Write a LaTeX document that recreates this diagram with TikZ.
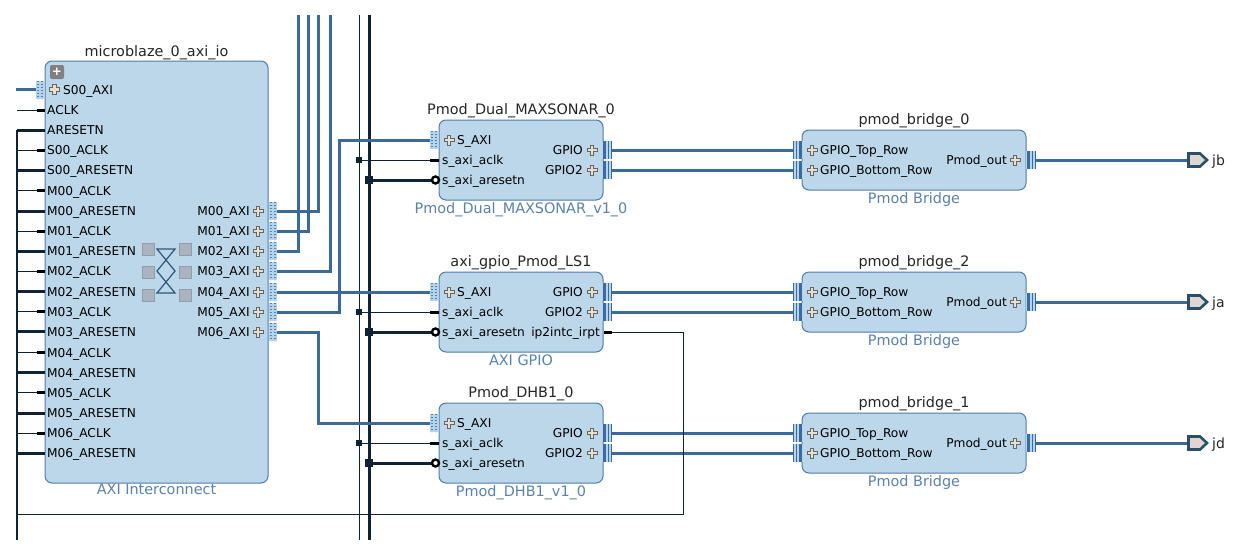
\documentclass[tikz,border=0pt]{standalone}
\usepackage{fontspec}
\setmainfont{DejaVu Sans}
\definecolor{blockfill}{HTML}{BCD6EA}
\definecolor{blockline}{HTML}{4F7CA8}
\definecolor{subtext}{HTML}{5A82AB}
\definecolor{buscol}{HTML}{3C6A9A}
\definecolor{rstcol}{HTML}{0F2236}
\definecolor{pincol}{HTML}{B4D3EC}
\definecolor{plusfill}{HTML}{E6E0D0}
\definecolor{xbarfill}{HTML}{AAB3C0}
\definecolor{xbarline}{HTML}{929CAB}
\definecolor{extfill}{HTML}{DDD6D2}
\definecolor{extline}{HTML}{2A5068}
\tikzset{
  block/.style={draw=blockline, line width=1pt, fill=blockfill, rounded corners=7pt, inner sep=0pt},
  title/.style={font=\fontsize{14.4}{15}\selectfont, text=black!85, inner sep=0pt, text height=10pt, text depth=0pt},
  subtitle/.style={font=\fontsize{14.4}{15}\selectfont, text=subtext, inner sep=0pt, text height=10pt, text depth=0pt},
  portl/.style={font=\fontsize{12.2}{13}\selectfont, anchor=west, inner sep=0pt, text height=9pt, text depth=0pt},
  portr/.style={portl, anchor=east},
  extl/.style={font=\fontsize{14}{15}\selectfont, text=black!85, anchor=west, inner sep=0pt, text height=10pt, text depth=0pt},
  buswire/.style={draw=buscol, line width=3pt},
  rstwire/.style={draw=rstcol, line width=3pt},
  clkwire/.style={draw=rstcol, line width=.8pt},
  stub/.style={draw=black, line width=3pt},
  junction/.style={fill=rstcol, inner sep=0pt, minimum size=#1},
  plus/.pic={
    \draw[fill=plusfill, draw=black!60, line width=.9pt]
      (-1.8,-5) -- (1.8,-5) -- (1.8,-1.8) -- (5,-1.8) -- (5,1.8) -- (1.8,1.8) -- (1.8,5)
      -- (-1.8,5) -- (-1.8,1.8) -- (-5,1.8) -- (-5,-1.8) -- (-1.8,-1.8) -- cycle;
  },
  buspin/.pic={
    \fill[pincol] (-4,-9) rectangle (4,9);
    \foreach \k in {-2,2}
      \draw[buscol!85!white, line width=1.2pt, dash pattern=on 1.2pt off 1.8pt] (\k,-9) -- (\k,9);
  },
  gpiopin/.pic={
    \fill[pincol] (-5,-9) rectangle (5,9);
    \fill[buscol] (-4,-9) rectangle (-1,9);
    \fill[buscol] (1,-9) rectangle (2,9);
    \fill[buscol] (4,-9) rectangle (5,9);
  },
}
\begin{document}
\begin{tikzpicture}[x=1pt,y=-1pt]
\useasboundingbox (0,0) rectangle (1257,555);

% interconnect
\node[block, minimum width=223pt, minimum height=422pt] (ic) at (156.5,272) {};
\node[title] (ictitle) at (156.5,51) {microblaze\_0\_axi\_io};
\node[subtitle] (icsub) at (156.5,489) {AXI Interconnect};
\node[fill=black!50, rounded corners=2pt, minimum size=14pt, inner sep=0pt, text=white, font=\bfseries\fontsize{12}{12}\selectfont] (icplus) at (57,72) {+};
\node[portl] (ics00) at (63,89.5) {S00\_AXI};
\pic at (54.5,89.5) {plus};
\pic at (40,89.5) {buspin};
\coordinate (pins00) at (36,89.5);
\coordinate (s00free) at (16,89.5);
\draw[buswire] (s00free) -- (pins00);

\coordinate (rsttop) at (17,130);
\coordinate (rstbot) at (17,540);
\draw[rstwire, line width=2.2pt] (rsttop) -- (rstbot);
\foreach \n/\t/\y in {aclk/ACLK/110, s00c/S00\_ACLK/150, m00c/M00\_ACLK/190.5, m01c/M01\_ACLK/231,
  m02c/M02\_ACLK/271, m03c/M03\_ACLK/311.5, m04c/M04\_ACLK/352.5, m05c/M05\_ACLK/392.5, m06c/M06\_ACLK/433}
{
  \node[portl] (ic\n) at (47,\y) {\t};
  \coordinate (pin\n) at (45,\y);
  \draw[clkwire] (rsttop |- pin\n) -- (pin\n);
  \draw[stub] (37,\y) -- (pin\n);
}
\foreach \n/\t/\y in {arst/ARESETN/130, s00r/S00\_ARESETN/170, m00r/M00\_ARESETN/211, m01r/M01\_ARESETN/251,
  m02r/M02\_ARESETN/291.5, m03r/M03\_ARESETN/331.5, m04r/M04\_ARESETN/372.5, m05r/M05\_ARESETN/413, m06r/M06\_ARESETN/453}
{
  \node[portl] (ic\n) at (47,\y) {\t};
  \coordinate (pin\n) at (45,\y);
  \draw[rstwire] (rsttop |- pin\n) -- (pin\n);
}
\foreach \n/\t/\y in {m00/M00\_AXI/211, m01/M01\_AXI/231, m02/M02\_AXI/251, m03/M03\_AXI/271,
  m04/M04\_AXI/292, m05/M05\_AXI/312, m06/M06\_AXI/332}
{
  \node[portr] (ic\n) at (250,\y) {\t};
  \pic at (258,\y) {plus};
  \coordinate (pin\n) at (277,\y);
}
% crossbar
\foreach \x in {148,185}
  \foreach \y in {249,272,295}
    \draw[fill=xbarfill, draw=xbarline] (\x-6,\y-6) rectangle (\x+6,\y+6);
\draw[draw=buscol!80!black, line width=1.2pt] (157,249) -- (175,249) -- (157,271) -- (175,293)
  -- (157,293) -- (175,271) -- cycle;

% gpio blocks
\foreach \b/\t/\s/\y in {dual/Pmod\_Dual\_MAXSONAR\_0/Pmod\_Dual\_MAXSONAR\_v1\_0/120,
  gpio/axi\_gpio\_Pmod\_LS1/AXI GPIO/272, dhb/Pmod\_DHB1\_0/Pmod\_DHB1\_v1\_0/403}
{
  \node[block, minimum width=164pt, minimum height=80pt] (\b) at (521,\y+40) {};
  \node[title] (\b title) at (521,\y-11) {\t};
  \node[subtitle] (\b sub) at (521,\y+88) {\s};
  \node[portl] (\b axi) at (457,\y+20) {S\_AXI};
  \node[portl] (\b clk) at (442,\y+40) {s\_axi\_aclk};
  \node[portl] (\b rst) at (442,\y+60) {s\_axi\_aresetn};
  \pic at (449,\y+20) {plus};
  \pic at (434,\y+20) {buspin};
  \coordinate (\b axipin) at (430,\y+20);
  \coordinate (\b clkpin) at (439,\y+40);
  \coordinate (\b rstpin) at (432,\y+60);
}
\foreach \b/\y in {dual/150, dhb/433, gpio/292}
{
  \node[portr] (\b o1) at (583,\y) {GPIO};
  \node[portr] (\b o2) at (583,\y+20) {GPIO2};
  \pic at (592,\y) {plus};
  \pic at (592,\y+20) {plus};
  \pic at (607,\y) {gpiopin};
  \pic at (607,\y+20) {gpiopin};
  \coordinate (\b p1) at (612,\y);
  \coordinate (\b p2) at (612,\y+20);
}

% bridges
\foreach \b/\t/\y/\p/\o in {brz/pmod\_bridge\_0/130/jb/dual, brt/pmod\_bridge\_2/272/ja/gpio, bro/pmod\_bridge\_1/413/jd/dhb}
{
  \node[block, minimum width=224pt, minimum height=60pt] (\b) at (914,\y+30) {};
  \node[title] (\b title) at (914,\y-11) {\t};
  \node[subtitle] (\b sub) at (914,\y+68) {Pmod Bridge};
  \node[portl] (\b top) at (820,\y+20) {GPIO\_Top\_Row};
  \node[portl] (\b bot) at (820,\y+40) {GPIO\_Bottom\_Row};
  \node[portr] (\b out) at (1007,\y+30) {Pmod\_out};
  \pic at (812,\y+20) {plus};
  \pic at (812,\y+40) {plus};
  \pic[xscale=-1] at (798,\y+20) {gpiopin};
  \pic[xscale=-1] at (798,\y+40) {gpiopin};
  \pic at (1015,\y+30) {plus};
  \pic at (1031,\y+30) {gpiopin};
  \coordinate (\b in1) at (793,\y+20);
  \coordinate (\b in2) at (793,\y+40);
  \coordinate (\b op) at (1036,\y+30);
  \coordinate (\p pin) at (1188,\y+30);
  \draw[buswire] (\b op) -- (\p pin);
  \draw[draw=extline, line width=2.6pt, fill=extfill, line join=miter]
    (1188.5,\y+23.5) -- (1200,\y+23.5) -- (1207,\y+30) -- (1200,\y+36.5) -- (1188.5,\y+36.5) -- cycle;
  \node[extl] (\p label) at (1212,\y+30) {\p};
  \draw[buswire] (\o p1) -- (\b in1);
  \draw[buswire] (\o p2) -- (\b in2);
}

% vertical buses and wires
\coordinate (clktop) at (359,15);
\coordinate (clkbot) at (359,540);
\coordinate (rsbtop) at (369,15);
\coordinate (rsbbot) at (369,540);
\draw[clkwire] (clktop) -- (clkbot);
\draw[rstwire] (rsbtop) -- (rsbbot);
\foreach \b in {dual,gpio,dhb}
{
  \draw[clkwire] (clktop |- \b clkpin) -- (\b clkpin);
  \draw[stub] (430,0 |- \b clkpin) -- (\b clkpin);
  \draw[rstwire] (rsbtop |- \b rstpin) -- (\b rstpin);
  \node[junction=6pt] (\b cj) at (clktop |- \b clkpin) {};
  \node[junction=8pt] (\b rj) at (rsbtop |- \b rstpin) {};
  \node[draw=black, fill=white, circle, line width=2.4pt, inner sep=0pt, minimum size=7pt] (\b ring) at (435.5,0 |- \b rstpin) {};
}
\foreach \n/\x in {m00/318, m01/308, m02/298, m03/330}
{
  \coordinate (\n top) at (\x,15);
  \draw[buswire] (pin\n) -| (\n top);
}
\foreach \n in {m00,m01,m02,m03,m04,m05,m06}
  \pic at (273,0 |- pin\n) {buspin};
\draw[buswire] (pinm04) -- (gpioaxipin);
\draw[buswire] (pinm05) -| (339,140) -- (dualaxipin);
\draw[buswire] (pinm06) -| (318,423) -- (dhbaxipin);

% interrupt
\node[portr] (irpt) at (600,332) {ip2intc\_irpt};
\coordinate (irptpin) at (612,332);
\coordinate (irptturn) at (683,514);
\draw[stub] (604,332) -- (irptpin);
\draw[clkwire] (irptpin) -| (irptturn) -- (rsttop |- irptturn);
\end{tikzpicture}
\end{document}
